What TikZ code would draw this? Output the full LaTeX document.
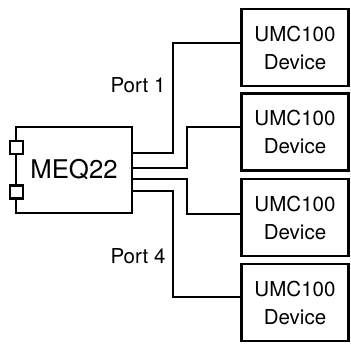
\documentclass[tikz,border=0pt]{standalone}
\usepackage{fontspec}
\setmainfont{TeX Gyre Heros}
\usetikzlibrary{positioning}

\begin{document}
\begin{tikzpicture}[x=0.75pt, y=-0.75pt, line width=1.7pt,
  device/.style={draw, rectangle, minimum width=80.25pt, minimum height=57.75pt, align=center, font=\fontsize{15.4}{21}\selectfont},
  unit/.style={draw, rectangle, minimum width=87pt, minimum height=64.5pt, font=\fontsize{19.3}{23}\selectfont},
  term/.style={draw, rectangle, fill=white, inner sep=0pt, minimum size=9.75pt},
  port/.style={left, font=\fontsize{15.4}{21}\selectfont}]
\path[use as bounding box] (0,0) rectangle (351,349);
\node[unit] (meq) at (74,170) {MEQ22};
\node[term] (ta) at (16.5,147.5) {};
\node[term] (tb) at (16.5,192) {};
\node[device] (dev1) at (295,47.5) {UMC100\\Device};
\node[device] (dev2) at (295,132) {UMC100\\Device};
\node[device] (dev3) at (295,217.5) {UMC100\\Device};
\node[device] (dev4) at (295,302.5) {UMC100\\Device};
\draw (meq.east |- 0,153) -| (173,43) -- (dev1.west |- 0,43);
\draw (meq.east |- 0,168) -| (187,127) -- (dev2.west |- 0,127);
\draw (meq.east |- 0,179) -| (187,214) -- (dev3.west |- 0,214);
\draw (meq.east |- 0,191) -| (173,297) -- (dev4.west |- 0,297);
\node[port] (p1) at (171,85) {Port 1};
\node[port] (p4) at (171,256) {Port 4};
\end{tikzpicture}
\end{document}
